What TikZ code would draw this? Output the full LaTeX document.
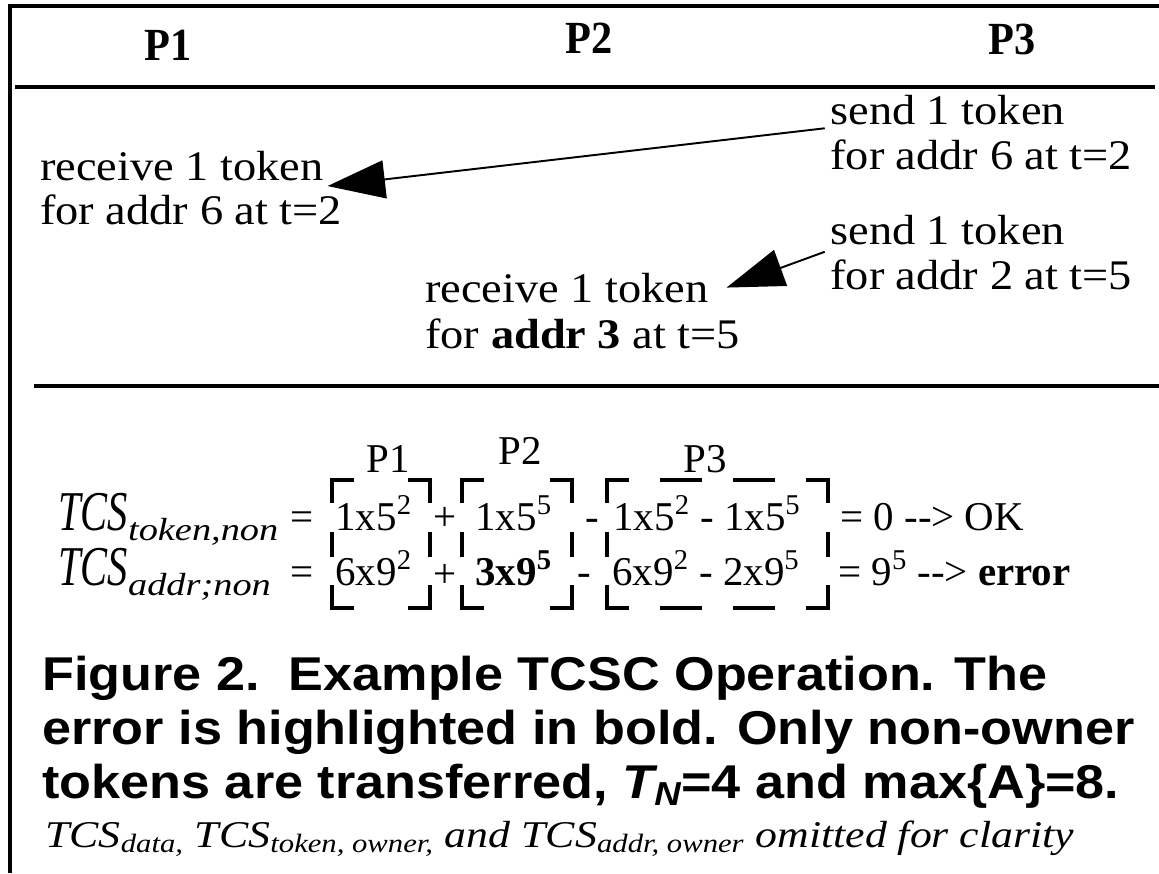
\documentclass[tikz,border=0pt]{standalone}
\usepackage{fontspec}
\setmainfont{Liberation Serif}[FakeStretch=1.1]
\newfontfamily\notefont{Liberation Serif}[FakeStretch=1.16]
\newfontfamily\hdrfont{Liberation Serif}[FakeStretch=0.92]
\newfontfamily\eqfont{Liberation Serif}
\newfontfamily\tcsfont{Liberation Serif}[FakeStretch=0.72]
\newfontfamily\subfont{Liberation Serif}[FakeStretch=1.2]
\newfontfamily\capfont{Liberation Sans}[FakeStretch=1.1]
\usetikzlibrary{arrows.meta}

% dashed corner brackets round one group of terms
\newcommand{\termbox}[2]{%
  \draw[brk] (#1,503) -- (#1,480) -- (#1+22,480);
  \draw[brk] (#2-22,480) -- (#2,480) -- (#2,503);
  \draw[brk] (#1,585) -- (#1,608) -- (#1+22,608);
  \draw[brk] (#2-22,608) -- (#2,608) -- (#2,585);
  \draw[brk] (#1,532) -- (#1,557);
  \draw[brk] (#2,532) -- (#2,557);
}
\newcommand{\tcs}[1]{{\tcsfont\itshape\fontsize{32}{34}\selectfont TCS}\raisebox{-10\unitlength}{\subfont\itshape\fontsize{18.2}{20}\selectfont #1}}
\setlength{\unitlength}{0.02cm}

\begin{document}
\begin{tikzpicture}[
  x=0.02cm, y=-0.02cm,
  hdr/.style={anchor=base, inner sep=0pt, font=\hdrfont\bfseries\fontsize{26.2}{30}\selectfont},
  lbl/.style={anchor=base west, inner sep=0pt, font=\fontsize{24}{28}\selectfont},
  eqn/.style={anchor=base west, inner sep=0pt, font=\eqfont\fontsize{23.3}{28}\selectfont},
  captxt/.style={anchor=base west, inner sep=0pt, font=\capfont\bfseries\fontsize{27}{30}\selectfont},
  fnote/.style={anchor=base west, inner sep=0pt, font=\notefont\itshape\fontsize{21.5}{24}\selectfont},
  border/.style={line width=2.4pt},
  sepline/.style={line width=1.8pt},
  msg/.style={-{Triangle[length=1.15cm,width=0.76cm]}, line width=1.1pt},
  brk/.style={line width=2pt}
]
\useasboundingbox (0,0) rectangle (1159,873);

% frame and separators
\draw[border] (10,873) -- (10,6) -- (1159,6);
\draw[sepline] (15,87) -- (1155,87);
\draw[sepline] (34,386) -- (1159,386);

% processor columns
\node[hdr] (h1) at (168,60) {P1};
\node[hdr] (h2) at (589,53) {P2};
\node[hdr] (h3) at (1012,54) {P3};

% token messages
\node[lbl] (recv1a) at (40,180) {receive 1 token};
\node[lbl] (recv1b) at (40,224) {for addr 6 at t=2};
\node[lbl] (send1a) at (830,124) {send 1 token};
\node[lbl] (send1b) at (830,169) {for addr 6 at t=2};
\node[lbl] (send2a) at (830,244) {send 1 token};
\node[lbl] (send2b) at (830,289) {for addr 2 at t=5};
\node[lbl] (recv2a) at (425,302) {receive 1 token};
\node[lbl] (recv2b) at (425,348) {for \textbf{addr 3} at t=5};

\draw[msg] ([xshift=-3pt,yshift=-2pt]send1a.south west) -- ([xshift=2pt,yshift=-3pt]recv1a.south east);
\draw[msg] ([xshift=-3pt,yshift=-4pt]send2a.south west) -- ([xshift=10pt]recv2a.east);

% checksum sums
\node[eqn, anchor=base] (lp1) at (388,472) {P1};
\node[eqn, anchor=base] (lp2) at (520,464) {P2};
\node[eqn, anchor=base] (lp3) at (705,472) {P3};

\node[eqn] (tok) at (58,530) {\tcs{token,non}};
\node[eqn] (eqa) at (290,530) {=};
\node[eqn] (a1) at (335,530) {1x5\textsuperscript{2}};
\node[eqn] (pa) at (433,530) {+};
\node[eqn] (b1) at (475,530) {1x5\textsuperscript{5}};
\node[eqn] (ma) at (585,530) {-};
\node[eqn] (c1) at (613,530) {1x5\textsuperscript{2} - 1x5\textsuperscript{5}};
\node[eqn] (ra) at (840,530) {= 0 -{}-> OK};

\node[eqn] (adr) at (58,585) {\tcs{addr;non}};
\node[eqn] (eqb) at (290,585) {=};
\node[eqn] (a2) at (335,585) {6x9\textsuperscript{2}};
\node[eqn] (pb) at (433,587) {+};
\node[eqn] (b2) at (475,585) {\textbf{3x9\textsuperscript{5}}};
\node[eqn] (mb) at (577,585) {-};
\node[eqn] (c2) at (612,585) {6x9\textsuperscript{2} - 2x9\textsuperscript{5}};
\node[eqn] (rb) at (838,585) {= 9\textsuperscript{5} -{}-> \textbf{error}};

\termbox{332}{430}
\termbox{462}{572}
\termbox{607}{828}
\draw[brk] (660,480) -- (702,480) (733,480) -- (775,480)
           (660,608) -- (702,608) (733,608) -- (775,608);

% caption
\node[captxt] (cap1) at (42,690) {Figure 2.\ \ Example TCSC Operation. The};
\node[captxt] (cap2) at (42,744) {error is highlighted in bold. Only non-owner};
\node[captxt] (cap3) at (42,798) {tokens are transferred, \textit{T\textsubscript{N}}=4 and max\{A\}=8.};
\node[fnote] (fn) at (45,847) {TCS\textsubscript{data,} TCS\textsubscript{token, owner,} and TCS\textsubscript{addr, owner} omitted for clarity};
\end{tikzpicture}
\end{document}
